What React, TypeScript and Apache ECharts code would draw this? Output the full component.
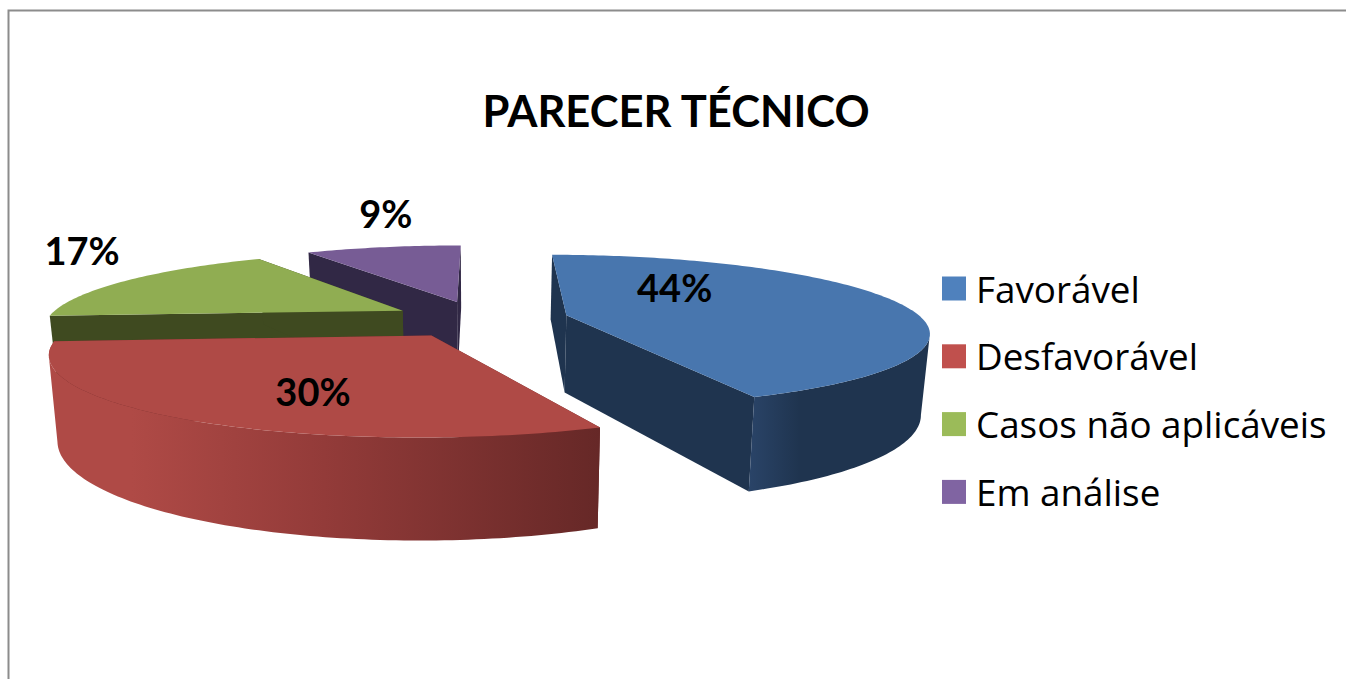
import React, { useEffect, useRef } from "react";
import * as echarts from "echarts";

const categories = ["Favorável", "Desfavorável", "Casos não aplicáveis", "Em análise"];
const values = [43.6, 30.3, 17.4, 8.7];
const topColors = ["#4876AE", "#AF4A46", "#90AD52", "#775C95"];
const sideColors = ["#1F344F", "#6E2A2A", "#3F4A20", "#312845"];
const legendColors = ["#4F81BD", "#C0504D", "#9BBB59", "#8064A2"];
// order in which slices are painted: back to front
const paintOrder = [3, 2, 0, 1];
// label location in the slice's plane: angle (deg, clockwise from back) and radius
const labelPolar = [[39.5, 0.557], [203.6, 0.655], [311.8, 1.545], [350.3, 1.8]];

const X0 = 480, Y0 = 319, RX = 356, RY = 74, K = 0.2, EXPLODE = 0.25, H = 78, BOTTOM_SCALE = 0.98;
const FONT = "Lato, 'Open Sans', sans-serif";

const total = values.reduce((a, b) => a + b, 0);
const rad = (d: number) => (d * Math.PI) / 180;
function sliceAngles(i: number) {
  let a = 0;
  for (let j = 0; j < i; j++) a += (values[j] / total) * 360;
  return [a, a + (values[i] / total) * 360];
}
function project(u: number, v: number, bottom = false): number[] {
  const s = 1 / (1 - K * v);
  const x = X0 + RX * u * s;
  const y = Y0 + RY * v * s;
  return bottom ? [X0 + (x - X0) * BOTTOM_SCALE, y + H * s] : [x, y];
}

function buildSlice(i: number) {
  const [a0, a1] = sliceAngles(i);
  const mid = rad((a0 + a1) / 2);
  const au = EXPLODE * Math.sin(mid), av = -EXPLODE * Math.cos(mid);
  const rim = (deg: number, bottom = false) => project(au + Math.sin(rad(deg)), av - Math.cos(rad(deg)), bottom);
  const apexT = project(au, av), apexB = project(au, av, true);
  const arcDegs: number[] = [];
  for (let d = a0; d < a1; d += 1) arcDegs.push(d);
  arcDegs.push(a1);
  const children: any[] = [];
  const poly = (points: number[][], fill: any) => ({ type: "polygon", shape: { points }, style: { fill, stroke: "none" } });
  // cut faces
  children.push(poly([apexT, rim(a0), rim(a0, true), apexB], sideColors[i]));
  children.push(poly([apexT, rim(a1), rim(a1, true), apexB], sideColors[i]));
  // outer visible wall, bounded by the silhouette of the rims
  const candidates = arcDegs.filter((d) => d >= 60 && d <= 270);
  if (candidates.length > 1) {
    const right = candidates.reduce((b, d) => (rim(d)[0] > rim(b)[0] ? d : b), candidates[0]);
    const left = candidates.reduce((b, d) => (rim(d, true)[0] < rim(b, true)[0] ? d : b), candidates[0]);
    const topLeft = candidates.reduce((b, d) => (rim(d)[0] < rim(b)[0] ? d : b), candidates[0]);
    const topArc = candidates.filter((d) => d >= right);
    const bottomArc = candidates.filter((d) => d >= right && d <= left);
    const pts = [
      ...topArc.map((d) => rim(d)),
      rim(topLeft),
      ...bottomArc.slice().reverse().map((d) => rim(d, true)),
    ];
    const stops = i === 1
      ? [{ offset: 0, color: "#662827" }, { offset: 0.5, color: "#933B39" }, { offset: 0.85, color: "#AF4A46" }, { offset: 1, color: "#AF4A46" }]
      : [{ offset: 0, color: "#1F344F" }, { offset: 0.72, color: "#1F344F" }, { offset: 1, color: "#2A4468" }];
    const fill = i <= 1 ? new echarts.graphic.LinearGradient(1, 0, 0, 0, stops.map((s) => ({ ...s }))) : sideColors[i];
    children.push(poly(pts, fill));
  }
  // top
  children.push(poly([apexT, ...arcDegs.map((d) => rim(d))], topColors[i]));
  // label
  const [la, lr] = labelPolar[i];
  const [lx, ly] = project(au + lr * Math.sin(rad(la)), av - lr * Math.cos(rad(la)));
  children.push({
    type: "text",
    x: lx,
    y: ly,
    style: {
      text: `${Math.round((values[i] / total) * 100)}%`,
      fill: "#000",
      font: `bold 38px ${FONT}`,
      align: "center",
      verticalAlign: "middle",
    },
  });
  return { type: "group", children };
}

export default function App() {
  const ref = useRef<HTMLDivElement>(null);
  useEffect(() => {
    const chart = echarts.init(ref.current!, null, { renderer: "svg" });
    chart.setOption({
      animation: false,
      backgroundColor: "#fff",
      title: {
        text: "PARECER TÉCNICO",
        left: 671,
        top: 83,
        textAlign: "center",
        textStyle: { fontFamily: FONT, fontWeight: "bold", fontSize: 43.5, color: "#000" },
      },
      legend: {
        orient: "vertical",
        left: 937,
        top: 265,
        data: categories.map((name, i) => ({ name, itemStyle: { color: legendColors[i] } })),
        icon: "rect",
        itemWidth: 24,
        itemHeight: 24,
        itemGap: 30.8,
        selectedMode: false,
        textStyle: { fontFamily: "'Open Sans', sans-serif", fontSize: 36.8, color: "#000", padding: [0, 0, 0, 5] },
      },
      graphic: [
        {
          type: "polyline",
          shape: { points: [[8.5, 679], [8.5, 10.5], [1346, 10.5]] },
          style: { stroke: "#8C8C8C", lineWidth: 2, fill: "none" },
          silent: true,
        },
      ],
      series: paintOrder.map((i) => ({
        type: "custom",
        name: categories[i],
        coordinateSystem: "none",
        itemStyle: { color: topColors[i] },
        data: [values[i]],
        silent: true,
        renderItem: () => buildSlice(i),
      })),
    });
    return () => chart.dispose();
  }, []);
  return <div ref={ref} style={{ position: "fixed", left: 0, top: 0, width: 1346, height: 679 }} />;
}
